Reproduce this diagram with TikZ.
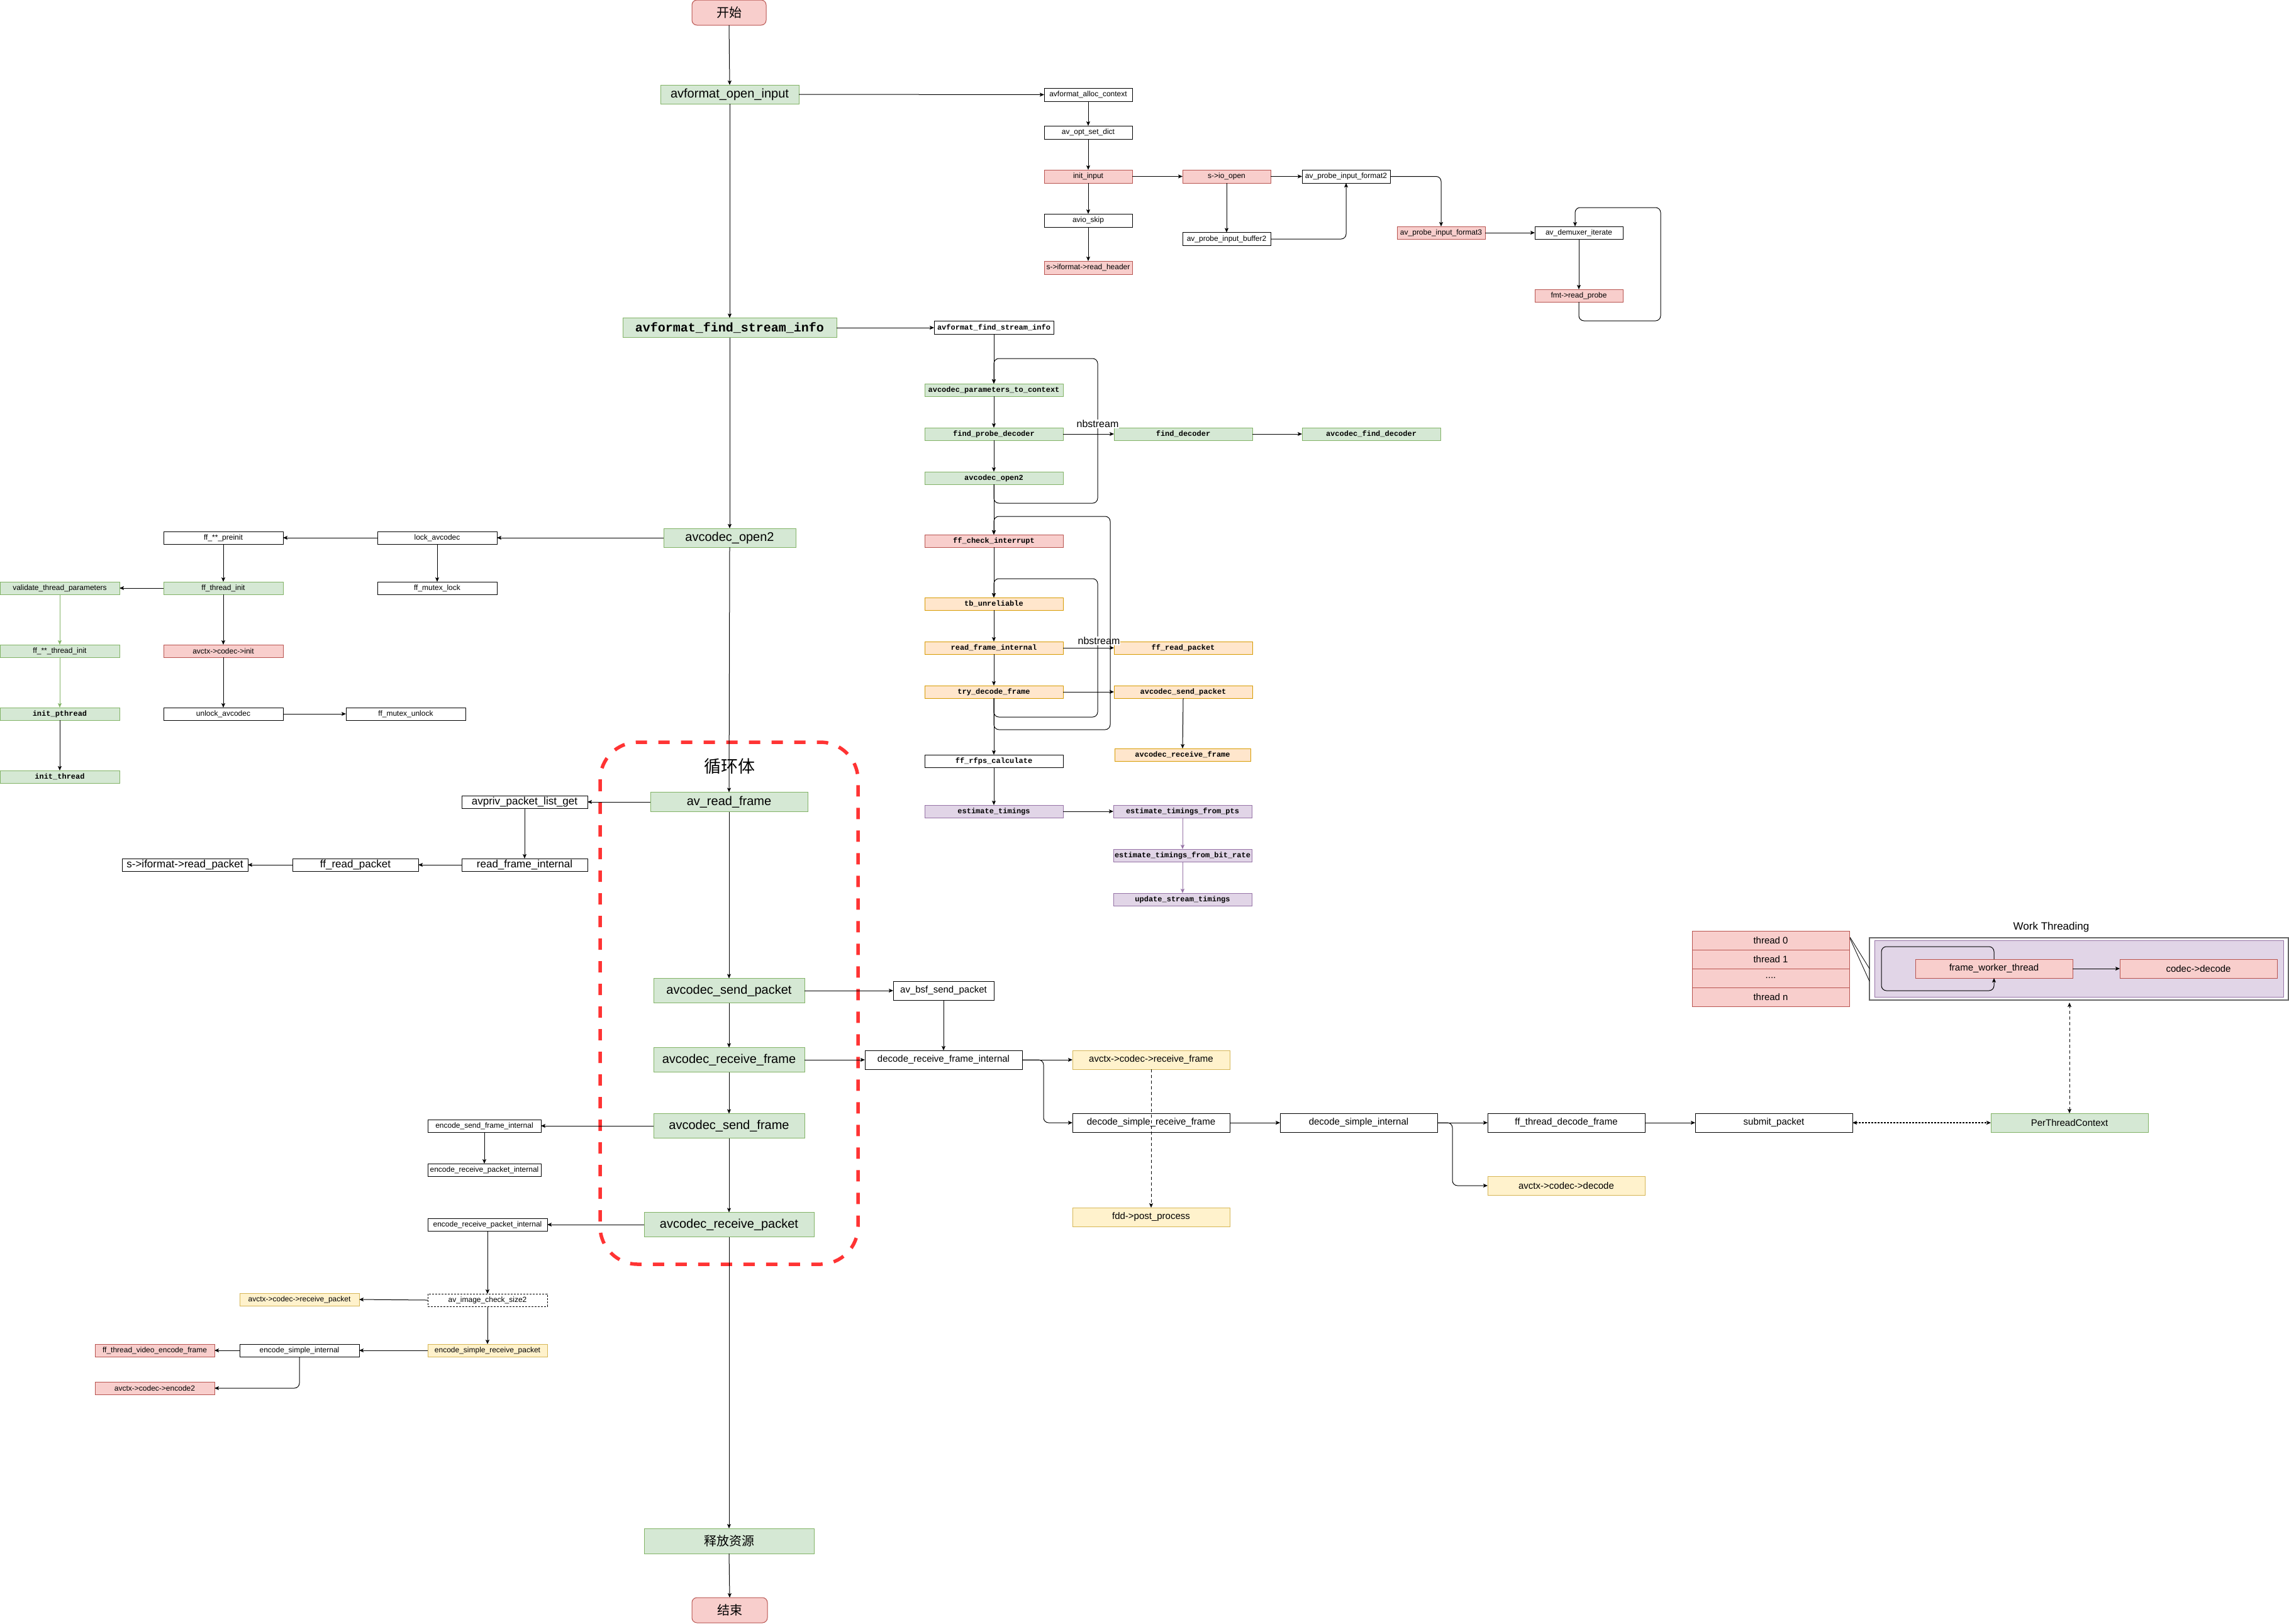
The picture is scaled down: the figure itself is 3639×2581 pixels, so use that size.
\documentclass[tikz,border=0pt]{standalone}
\usepackage{fontspec}
\setmainfont{Liberation Sans}
\newfontfamily\monof{Liberation Mono}
\newfontfamily\cjkf{Noto Sans CJK SC}
\usetikzlibrary{arrows.meta}
\definecolor{gF}{HTML}{D5E8D4}\definecolor{gD}{HTML}{82B366}
\definecolor{rF}{HTML}{F8CECC}\definecolor{rD}{HTML}{B85450}
\definecolor{oF}{HTML}{FFE6CC}\definecolor{oD}{HTML}{D79B00}
\definecolor{yF}{HTML}{FFF2CC}\definecolor{yD}{HTML}{D6B656}
\definecolor{pF}{HTML}{E1D5E7}\definecolor{pD}{HTML}{9673A6}
\definecolor{loopR}{HTML}{FF3333}
\begin{document}
\begin{tikzpicture}[x=1pt,y=-1pt,
  bx/.style={draw, rectangle, inner sep=0pt, outer sep=0pt, line width=1pt},
  sz/.style 2 args={minimum width=#1pt, minimum height=#2pt},
  wh/.style={bx, fill=white, draw=black},
  gr/.style={bx, fill=gF, draw=gD},
  rd/.style={bx, fill=rF, draw=rD},
  orb/.style={bx, fill=oF, draw=oD},
  ye/.style={bx, fill=yF, draw=yD},
  pu/.style={bx, fill=pF, draw=pD},
  t12/.style={font=\fontsize{12}{14}\selectfont},
  t15/.style={font=\fontsize{15}{18}\selectfont},
  t16/.style={font=\fontsize{16}{19}\selectfont},
  t17/.style={font=\fontsize{17}{20}\selectfont},
  t20/.style={font=\fontsize{20}{24}\selectfont},
  m12/.style={font=\monof\bfseries\fontsize{12}{14}\selectfont},
  m20/.style={font=\monof\bfseries\fontsize{20}{24}\selectfont},
  c20/.style={font=\cjkf\fontsize{20}{24}\selectfont},
  c26/.style={font=\cjkf\fontsize{27}{32}\selectfont},
  tip/.tip={Stealth[length=7pt,width=6pt,inset=1.5pt]},
  ar/.style={draw=black, line width=1pt, -tip},
  rc/.style={rounded corners=8pt},
]
\useasboundingbox (0,0) rectangle (3639,2581);

% loop body frame
\draw[loopR, line width=5.5pt, dash pattern=on 18pt off 18pt, rounded corners=60pt] (954,1180) rectangle (1364,2010);
\node[c26] (lbl) at (1160,1218) {循环体};

% main column
\node[rd, sz={118}{40}, rounded corners=8pt, c20] (start) at (1159,20) {开始};
\node[gr, sz={220}{30}, t20] (aoi) at (1160,150) {avformat\_open\_input};
\node[gr, sz={340}{31}, m20] (fsi) at (1160,521) {avformat\_find\_stream\_info};
\node[gr, sz={210}{30}, t20] (ao2) at (1160,855) {avcodec\_open2};
\node[gr, sz={250}{31}, t20] (arf) at (1159,1275) {av\_read\_frame};
\node[gr, sz={240}{39}, t20] (asp) at (1159,1575) {avcodec\_send\_packet};
\node[gr, sz={240}{39}, t20] (arfr) at (1159,1685) {avcodec\_receive\_frame};
\node[gr, sz={240}{39}, t20] (asf) at (1159,1790) {avcodec\_send\_frame};
\node[gr, sz={270}{39}, t20] (arp) at (1159,1947) {avcodec\_receive\_packet};
\node[gr, sz={270}{40}, c20] (rel) at (1159,2450) {释放资源};
\node[rd, sz={120}{40}, rounded corners=8pt, c20] (fin) at (1160,2560) {结束};

% open input
\node[wh, sz={140}{21}, t12] (alloc) at (1730,150.5) {avformat\_alloc\_context};
\node[wh, sz={140}{21}, t12] (optd) at (1730,210.5) {av\_opt\_set\_dict};
\node[rd, sz={140}{21}, t12] (iinp) at (1730,280.5) {init\_input};
\node[wh, sz={140}{21}, t12] (askip) at (1730,350.5) {avio\_skip};
\node[rd, sz={140}{21}, t12] (rhdr) at (1730,425.5) {s->iformat->read\_header};
\node[rd, sz={140}{21}, t12] (ioop) at (1950,280.5) {s->io\_open};
\node[wh, sz={140}{21}, t12] (fmt2) at (2140,280.5) {av\_probe\_input\_format2};
\node[wh, sz={140}{21}, t12] (buf2) at (1950,380) {av\_probe\_input\_buffer2};
\node[rd, sz={140}{20}, t12] (fmt3) at (2291,370) {av\_probe\_input\_format3};
\node[wh, sz={140}{20}, t12] (demx) at (2510,370) {av\_demuxer\_iterate};
\node[rd, sz={140}{20}, t12] (rprb) at (2510,470) {fmt->read\_probe};

% find stream info
\node[wh, sz={190}{21}, m12] (fsis) at (1580,521) {avformat\_find\_stream\_info};
\node[gr, sz={220}{20}, m12] (p2c) at (1580,620) {avcodec\_parameters\_to\_context};
\node[gr, sz={220}{20}, m12] (fpd) at (1580,690) {find\_probe\_decoder};
\node[gr, sz={220}{20}, m12] (fdec) at (1881,690) {find\_decoder};
\node[gr, sz={220}{20}, m12] (afd) at (2180,690) {avcodec\_find\_decoder};
\node[gr, sz={220}{20}, m12] (ao2s) at (1580,760) {avcodec\_open2};
\node[rd, sz={220}{20}, m12] (fci) at (1580,860) {ff\_check\_interrupt};
\node[orb, sz={220}{20}, m12] (tbu) at (1580,960) {tb\_unreliable};
\node[orb, sz={220}{20}, m12] (rfis) at (1580,1030) {read\_frame\_internal};
\node[orb, sz={220}{20}, m12] (frps) at (1881,1030) {ff\_read\_packet};
\node[orb, sz={220}{20}, m12] (tdf) at (1580,1100) {try\_decode\_frame};
\node[orb, sz={220}{20}, m12] (asps) at (1881,1100) {avcodec\_send\_packet};
\node[orb, sz={216}{20}, m12] (arfs) at (1880,1200) {avcodec\_receive\_frame};
\node[wh, sz={220}{20}, m12] (rfps) at (1580,1210) {ff\_rfps\_calculate};
\node[pu, sz={220}{20}, m12] (et) at (1580,1290) {estimate\_timings};
\node[pu, sz={220}{20}, m12] (etp) at (1880,1290) {estimate\_timings\_from\_pts};
\node[pu, sz={220}{20}, m12] (etb) at (1880,1360) {estimate\_timings\_from\_bit\_rate};
\node[pu, sz={220}{20}, m12] (ust) at (1880,1430) {update\_stream\_timings};

% avcodec_open2 side
\node[wh, sz={190}{20}, t12] (lock) at (695,855) {lock\_avcodec};
\node[wh, sz={190}{20}, t12] (prei) at (355,855) {ff\_**\_preinit};
\node[gr, sz={190}{20}, t12] (thi) at (355,935) {ff\_thread\_init};
\node[wh, sz={190}{20}, t12] (mlk) at (695,935) {ff\_mutex\_lock};
\node[gr, sz={190}{20}, t12] (vtp) at (95,935) {validate\_thread\_parameters};
\node[gr, sz={190}{20}, t12] (tti) at (95,1035) {ff\_**\_thread\_init};
\node[rd, sz={190}{20}, t12] (cin) at (355,1035) {avctx->codec->init};
\node[gr, sz={190}{20}, m12] (ipt) at (95,1135) {init\_pthread};
\node[wh, sz={190}{20}, t12] (ulk) at (355,1135) {unlock\_avcodec};
\node[wh, sz={190}{20}, t12] (mulk) at (645,1135) {ff\_mutex\_unlock};
\node[gr, sz={190}{20}, m12] (ith) at (95,1235) {init\_thread};

% av_read_frame side
\node[wh, sz={200}{20}, t17] (apl) at (834,1275) {avpriv\_packet\_list\_get};
\node[wh, sz={200}{20}, t17] (rfi) at (834,1375) {read\_frame\_internal};
\node[wh, sz={200}{20}, t17] (frp) at (565,1375) {ff\_read\_packet};
\node[wh, sz={200}{20}, t17] (irp) at (294,1375) {s->iformat->read\_packet};

% decode side
\node[wh, sz={160}{30}, t15] (bsf) at (1500,1575) {av\_bsf\_send\_packet};
\node[wh, sz={250}{30}, t15] (drfi) at (1500,1685) {decode\_receive\_frame\_internal};
\node[ye, sz={250}{30}, t15] (acrf) at (1830,1685) {avctx->codec->receive\_frame};
\node[wh, sz={250}{30}, t15] (dsrf) at (1830,1785) {decode\_simple\_receive\_frame};
\node[wh, sz={250}{30}, t15] (dsi) at (2160,1785) {decode\_simple\_internal};
\node[wh, sz={250}{30}, t15] (ftdf) at (2490,1785) {ff\_thread\_decode\_frame};
\node[wh, sz={250}{30}, t15] (smp) at (2820,1785) {submit\_packet};
\node[ye, sz={250}{30}, t15] (acd) at (2490,1885) {avctx->codec->decode};
\node[ye, sz={250}{30}, t15] (fpp) at (1830,1935) {fdd->post\_process};
\node[gr, sz={250}{30}, t15] (ptc) at (3290,1785) {PerThreadContext};

% work threading
\node[rd, sz={250}{30}, t15] (th0) at (2815,1495) {thread 0};
\node[rd, sz={250}{30}, t15] (th1) at (2815,1525) {thread 1};
\node[rd, sz={250}{30}, t15] (thd) at (2815,1555) {....};
\node[rd, sz={250}{30}, t15] (thn) at (2815,1585) {thread n};
\node[t17] (wtl) at (3261,1474) {Work Threading};
\node[draw=black!60, line width=2pt, fill=white, sz={666}{99}, inner sep=0pt] (wto) at (3305,1540.5) {};
\node[pu, sz={650}{90}] (wti) at (3305,1540) {};
\node[rd, sz={250}{30}, t15] (fwt) at (3170,1540) {frame\_worker\_thread};
\node[rd, sz={250}{30}, t15] (cdd) at (3495,1540) {codec->decode};
\coordinate (wa) at (2941,1490);
\coordinate (wb) at (2972,1540);
\coordinate (wc) at (2941,1492);
\coordinate (wd) at (2972,1560);
\coordinate (wbot) at (3290,1594);

% encode side
\node[wh, sz={180}{20}, t12] (esfi) at (770,1790) {encode\_send\_frame\_internal};
\node[wh, sz={180}{20}, t12] (erp1) at (770,1860) {encode\_receive\_packet\_internal};
\node[wh, sz={190}{20}, t12] (erp2) at (775,1947) {encode\_receive\_packet\_internal};
\node[wh, sz={190}{20}, t12, dash pattern=on 3pt off 2pt] (aics) at (775,2067) {av\_image\_check\_size2};
\node[ye, sz={190}{20}, t12] (esrp) at (775,2147) {encode\_simple\_receive\_packet};
\node[ye, sz={190}{20}, t12] (acrp) at (476,2066) {avctx->codec->receive\_packet};
\node[wh, sz={190}{20}, t12] (esi) at (476,2147) {encode\_simple\_internal};
\node[rd, sz={190}{20}, t12] (ftv) at (246,2147) {ff\_thread\_video\_encode\_frame};
\node[rd, sz={190}{20}, t12] (ace2) at (246,2207) {avctx->codec->encode2};

% ---------- connectors ----------
\draw[ar] (start.south) -- (aoi.north);
\draw[ar] (aoi.south) -- (fsi.north);
\draw[ar] (fsi.south) -- (ao2.north);
\draw[ar] (ao2.south) -- (arf.north);
\draw[ar] (arf.south) -- (asp.north);
\draw[ar] (asp.south) -- (arfr.north);
\draw[ar] (arfr.south) -- (asf.north);
\draw[ar] (asf.south) -- (arp.north);
\draw[ar] (arp.south) -- (rel.north);
\draw[ar] (rel.south) -- (fin.north);

\draw[ar] (aoi.east) -- (alloc.west);
\draw[ar] (alloc.south) -- (optd.north);
\draw[ar] (optd.south) -- (iinp.north);
\draw[ar] (iinp.south) -- (askip.north);
\draw[ar] (askip.south) -- (rhdr.north);
\draw[ar] (iinp.east) -- (ioop.west);
\draw[ar] (ioop.east) -- (fmt2.west);
\draw[ar] (ioop.south) -- (buf2.north);
\draw[ar, rc] (buf2.east) -| (fmt2.south);
\draw[ar, rc] (fmt2.east) -| (fmt3.north);
\draw[ar] (fmt3.east) -- (demx.west);
\draw[ar] (demx.south) -- (rprb.north);
\draw[ar, rc] (rprb.south) -- (2510,510) -- (2640,510) -- (2640,330) -- (2504,330) -- ([xshift=-6pt]demx.north);

\draw[ar] (fsi.east) -- (fsis.west);
\draw[ar] (fsis.south) -- (p2c.north);
\draw[ar, rc] (ao2s.south) -- (1580,800) -- (1745,800) -- (1745,570) -- (1580,570) -- (p2c.north);
\draw[ar] (p2c.south) -- (fpd.north);
\draw[ar] (fpd.south) -- (ao2s.north);
\draw[ar] (fpd.east) -- (fdec.west);
\draw[ar] (fdec.east) -- (afd.west);
\node[t16, fill=white, inner sep=1pt] (nb1) at (1745,674) {nbstream};
\draw[ar] (ao2s.south) -- (fci.north);
\draw[ar] (fci.south) -- (tbu.north);
\draw[ar] (tbu.south) -- (rfis.north);
\draw[ar] (rfis.south) -- (tdf.north);
\draw[ar] (rfis.east) -- (frps.west);
\draw[ar] (tdf.east) -- (asps.west);
\draw[ar, rc] (tdf.south) -- (1580,1140) -- (1745,1140) -- (1745,920) -- (1580,920) -- (tbu.north);
\node[t16, fill=white, inner sep=1pt] (nb2) at (1747,1019) {nbstream};
\draw[ar, rc] (tdf.south) -- (1580,1160) -- (1765,1160) -- (1765,821) -- (1580,821) -- (fci.north);
\draw[ar] (asps.south) -- (arfs.north);
\draw[ar] (tdf.south) -- (rfps.north);
\draw[ar] (rfps.south) -- (et.north);
\draw[ar] (et.east) -- (etp.west);
\draw[ar, draw=pD] (etp.south) -- (etb.north);
\draw[ar, draw=pD] (etb.south) -- (ust.north);

\draw[ar] (ao2.west) -- (lock.east);
\draw[ar] (lock.west) -- (prei.east);
\draw[ar] (lock.south) -- (mlk.north);
\draw[ar] (prei.south) -- (thi.north);
\draw[ar] (thi.west) -- (vtp.east);
\draw[ar] (thi.south) -- (cin.north);
\draw[ar] (cin.south) -- (ulk.north);
\draw[ar] (ulk.east) -- (mulk.west);
\draw[ar, draw=gD] (vtp.south) -- (tti.north);
\draw[ar, draw=gD] (tti.south) -- (ipt.north);
\draw[ar] (ipt.south) -- (ith.north);

\draw[ar] (arf.west) -- (apl.east);
\draw[ar] (apl.south) -- (rfi.north);
\draw[ar] (rfi.west) -- (frp.east);
\draw[ar] (frp.west) -- (irp.east);

\draw[ar] (asp.east) -- (bsf.west);
\draw[ar] (bsf.south) -- (drfi.north);
\draw[ar] (arfr.east) -- (drfi.west);
\draw[ar] (drfi.east) -- (acrf.west);
\draw[ar, rc] (drfi.east) -- (1659,1685) |- (dsrf.west);
\draw[ar] (dsrf.east) -- (dsi.west);
\draw[ar] (dsi.east) -- (ftdf.west);
\draw[ar, rc] (dsi.east) -- (2309,1785) |- (acd.west);
\draw[ar] (ftdf.east) -- (smp.west);
\draw[ar, dash pattern=on 5pt off 4pt, line width=0.8pt] (acrf.south) -- (fpp.north);
\draw[line width=1.2pt, dash pattern=on 3pt off 2pt, tip-tip] (smp.east) -- (ptc.west);
\draw[line width=1pt, dash pattern=on 5pt off 4pt, tip-tip] (ptc.north) -- (wbot);

\draw[ar] (fwt.east) -- (cdd.west);
\draw[ar, rc] (fwt.north) -- (3170,1505) -- (2991,1505) -- (2991,1575) -- (3170,1575) -- (fwt.south);
\draw[line width=0.8pt] (wa) -- (wb);
\draw[line width=0.8pt] (wc) -- (wd);

\draw[ar] (asf.west) -- (esfi.east);
\draw[ar] (esfi.south) -- (erp1.north);
\draw[ar] (arp.west) -- (erp2.east);
\draw[ar] (erp2.south) -- (aics.north);
\draw[ar] (aics.south) -- (esrp.north);
\draw[ar] (aics.west) -- (acrp.east);
\draw[ar] (esrp.west) -- (esi.east);
\draw[ar] (esi.west) -- (ftv.east);
\draw[ar, rc] (esi.south) |- (ace2.east);
\end{tikzpicture}
\end{document}
